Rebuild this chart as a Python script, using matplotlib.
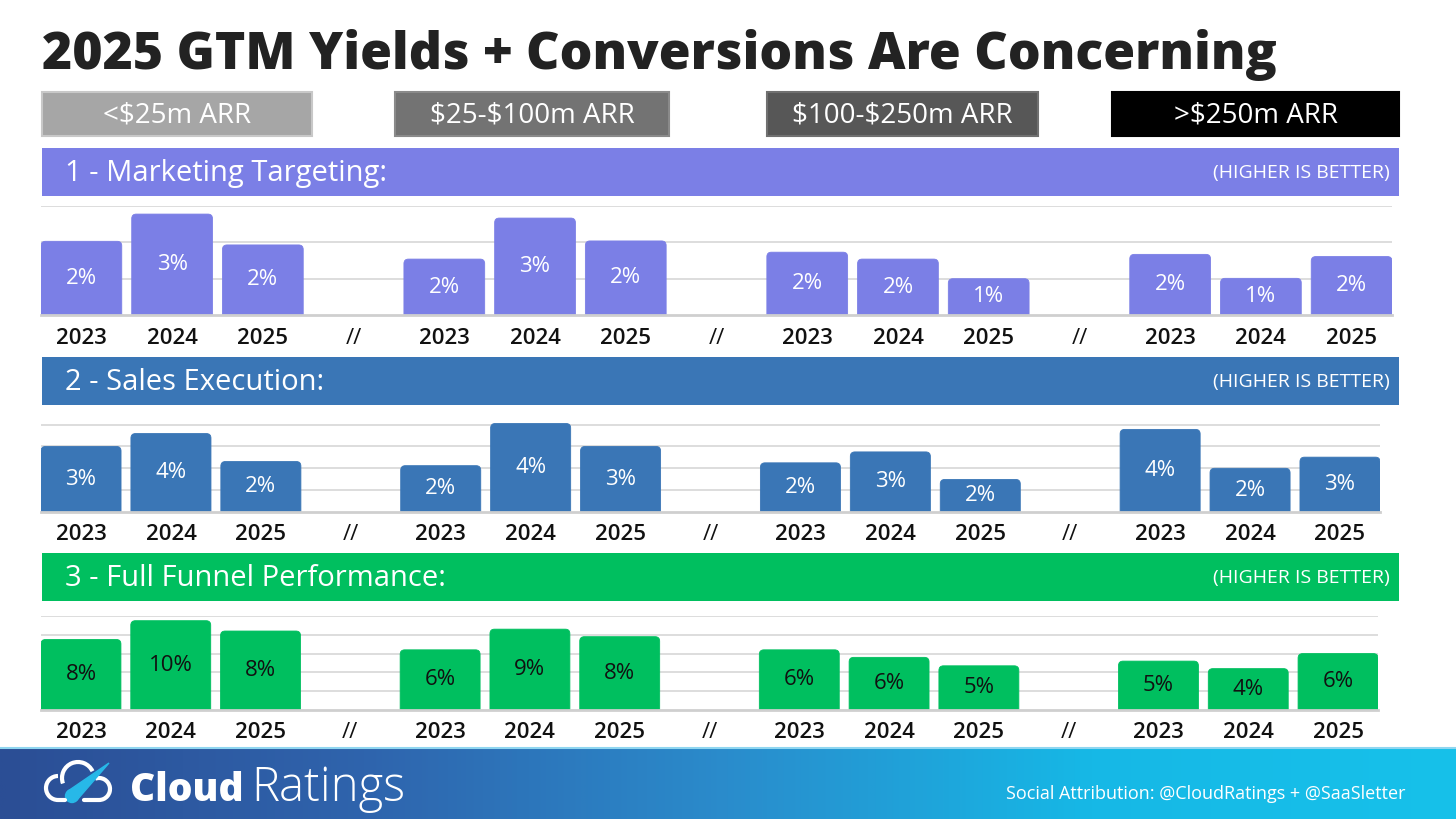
import numpy as np
import matplotlib
matplotlib.use('Agg')
import matplotlib.pyplot as plt
from matplotlib.patches import Rectangle, Arc, Circle, Polygon, FancyBboxPatch
from matplotlib.colors import LinearSegmentedColormap

plt.rcParams['font.family'] = ['Open Sans', 'DejaVu Sans']
plt.rcParams['text.parse_math'] = False

# --- data ---
segments = ['<$25m ARR', '$25-$100m ARR', '$100-$250m ARR', '>$250m ARR']
years = ['2023', '2024', '2025']

marketing = [2.03, 2.78, 1.93, 1.54, 2.67, 2.04, 1.73, 1.54, 1.00, 1.67, 1.01, 1.61]
marketing_lbl = ['2%', '3%', '2%', '2%', '3%', '2%', '2%', '2%', '1%', '2%', '1%', '2%']

sales = [3.00, 3.59, 2.31, 2.12, 4.05, 3.00, 2.25, 2.75, 1.49, 3.78, 2.00, 2.51]
sales_lbl = ['3%', '4%', '2%', '2%', '4%', '3%', '2%', '3%', '2%', '4%', '2%', '3%']

funnel = [7.5, 9.5, 8.4, 6.4, 8.6, 7.8, 6.4, 5.6, 4.7, 5.2, 4.4, 6.0]
funnel_lbl = ['8%', '10%', '8%', '6%', '9%', '8%', '6%', '6%', '5%', '5%', '4%', '6%']

W, H = 1456, 819
fig = plt.figure(figsize=(W / 100, H / 100), dpi=100)
fig.patch.set_facecolor('white')

# background axes in pixel coords (y downwards)
bg = fig.add_axes([0, 0, 1, 1])
bg.axis('off')

bg.text(42, 69, '2025 GTM Yields + Conversions Are Concerning', fontsize=37.3,
        fontweight='heavy', color='#222222', va='baseline', ha='left')

# segment boxes
boxes = [(42, 312, '#a6a6a6', '#c8c8c8'), (395, 669, '#737373', '#8a8a8a'),
         (767, 1038, '#575757', '#707070'), (1112, 1399, '#000000', '#000000')]
for (x0, x1, fc, ec), lab in zip(boxes, segments):
    bg.add_patch(Rectangle((x0, 92), x1 - x0, 44, facecolor=fc, edgecolor=ec, lw=1.5))
    bg.text((x0 + x1) / 2, 115, lab, color='white', fontsize=20, fontweight='medium',
            ha='center', va='center')

# panel header bands
bands = [(148, '#7b7fe6', '1 - Marketing Targeting:'),
         (357, '#3a76b6', '2 - Sales Execution:'),
         (553, '#00bf5f', '3 - Full Funnel Performance:')]
for y0, c, t in bands:
    bg.add_patch(Rectangle((42, y0), 1357, 48, facecolor=c, edgecolor='none'))
    bg.text(65, y0 + 25, t, color='white', fontsize=21, fontweight='medium',
            ha='left', va='center')
    bg.text(1390, y0 + 25, '(HIGHER IS BETTER)', color='white', fontsize=14,
            ha='right', va='center')

# footer
grad = np.linspace(0, 1, 600).reshape(1, -1)
cmap = LinearSegmentedColormap.from_list('foot', ['#2b4e95', '#2f64ad', '#2a8ccc', '#16b8e6', '#17c1ea'])
bg.imshow(grad, extent=[0, W, H, 748], aspect='auto', cmap=cmap, zorder=0)
bg.plot([0, W], [748, 748], color='#8fd6f0', lw=1.5)

# cloud logo
for cx, cy, r, t1, t2 in [(58, 788, 12, 90, 270), (78, 778, 16, 160, 335), (99, 789, 11, 250, 90)]:
    bg.add_patch(Arc((cx, cy), 2 * r, 2 * r, theta1=t1, theta2=t2, color='white', lw=3))
bg.plot([58, 65], [800, 800], color='white', lw=3, solid_capstyle='round')
bg.plot([84, 99], [800, 800], color='white', lw=3, solid_capstyle='round')
bg.add_patch(Polygon([(109, 763), (68, 791), (77, 800)], closed=True, color='#27b8e8'))
bg.add_patch(Circle((72, 796), 6.5, color='#27b8e8'))

bg.text(130, 801, 'Cloud', color='white', fontsize=28, fontweight='heavy', va='baseline')
bg.text(251, 801, 'Ratings', color='white', fontsize=34, fontweight='light', va='baseline')
bg.text(1405, 799, 'Social Attribution: @CloudRatings + @SaaSletter', color='white',
        fontsize=13, ha='right', va='baseline')

bg.set_xlim(0, W)
bg.set_ylim(H, 0)

# bar panels
slots = [0, 1, 2, 4, 5, 6, 8, 9, 10, 12, 13, 14]
seps = [3, 7, 11]
bw = 0.89


def panel(vals, labels, color, txt_color, left, right, base, unit, ymax, ticks, lab_off):
    hgt = unit * ymax
    ax = fig.add_axes([left / W, (H - base) / H, (right - left) / W, hgt / H])
    ax.patch.set_alpha(0)
    ax.set_xlim(-bw / 2, 14 + bw / 2)
    ax.set_ylim(0, ymax)
    xpx = (right - left) / (14 + bw)   # pixels per x unit
    bars = ax.bar(slots, vals, width=bw, color=color, zorder=3)
    # swap plain bars for ones with rounded top corners
    rad = 4.5 / xpx
    aspect = xpx / unit
    for b in bars:
        b.set_visible(False)
        ry = rad * aspect
        ax.add_patch(FancyBboxPatch((b.get_x(), -ry), b.get_width(), b.get_height() + ry,
                                    boxstyle='round,pad=0,rounding_size=%f' % rad,
                                    mutation_aspect=aspect, facecolor=color,
                                    edgecolor=color, lw=0.6, zorder=3))
    for x, v, l in zip(slots, vals, labels):
        ax.text(x, v / 2, l, color=txt_color, fontsize=16, ha='center', va='center', zorder=4)
    ax.set_yticks(ticks)
    ax.grid(axis='y', color='#dadada', lw=1.3)
    ax.set_axisbelow(True)
    for s in ['top', 'left', 'right']:
        ax.spines[s].set_visible(False)
    ax.spines['bottom'].set_color('#cfcfcf')
    ax.spines['bottom'].set_linewidth(2)
    ax.spines['bottom'].set_zorder(5)
    ax.tick_params(left=False, labelleft=False, bottom=False, labelbottom=False)
    tr = ax.get_xaxis_transform()
    for i, x in enumerate(slots):
        ax.text(x, -lab_off / hgt, years[i % 3], transform=tr, ha='center', va='center',
                fontsize=16, fontweight='semibold', color='#111111')
    for x in seps:
        ax.text(x, -lab_off / hgt, '//', transform=tr, ha='center', va='center',
                fontsize=16, color='#111111')
    return ax


panel(marketing, marketing_lbl, '#7b7fe6', 'white', 41, 1392, 315, 36.3, 3.0, [1, 2, 3], 23)
panel(sales, sales_lbl, '#3a76b6', 'white', 41, 1380, 512, 21.85, 4.1, [1, 2, 3, 4], 22)
panel(funnel, funnel_lbl, '#00bf5f', '#111111', 41, 1378, 710, 9.4, 10.0, [2, 4, 6, 8, 10], 22)

fig.savefig('out.png', dpi=100)
